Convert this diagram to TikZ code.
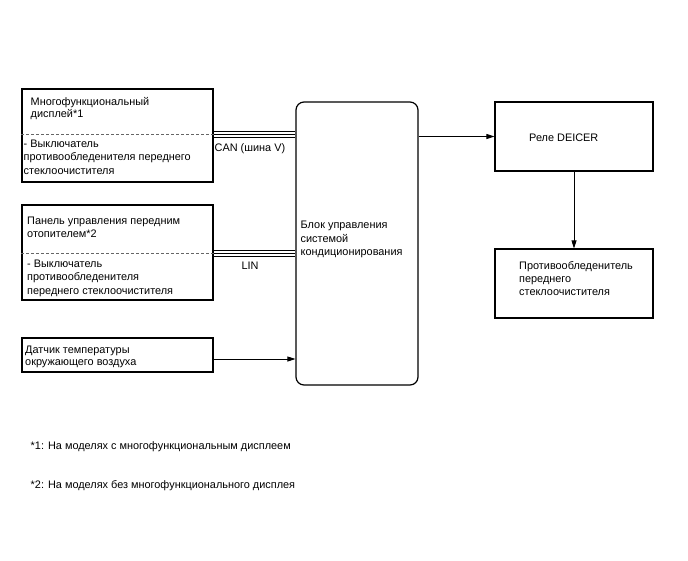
\documentclass[tikz,border=0pt]{standalone}
\usepackage{fontspec}
\setmainfont{Liberation Sans}
\usetikzlibrary{arrows.meta,calc}
\begin{document}
\begin{tikzpicture}[x=1pt,y=-1pt,
  box/.style={draw, line width=1.2pt, inner sep=0pt},
  txt/.style={inner sep=0pt, anchor=north west, align=left, font=\fontsize{10.9}{13.2}\selectfont},
  lbl/.style={inner sep=0pt, font=\fontsize{10.9}{13.2}\selectfont},
  sepline/.style={draw=black!60, line width=0.8pt, dash pattern=on 3pt off 2pt},
  bus/.style={line width=0.9pt},
  arr/.style={line width=0.8pt, -{Triangle[length=8pt,width=5pt]}}]
\useasboundingbox (0,0) rectangle (688,560);
% boxes
\node[box, minimum width=191pt, minimum height=93pt] (b1) at (117.5,135.5) {};
\node[box, minimum width=191pt, minimum height=95pt] (b2) at (117.5,252.5) {};
\node[box, minimum width=191pt, minimum height=34pt] (b3) at (117.5,355) {};
\node[box, rounded corners=8pt, minimum width=122pt, minimum height=283pt] (ctl) at (357,243.5) {};
\node[box, minimum width=158pt, minimum height=69pt] (relay) at (574,136.5) {};
\node[box, minimum width=158pt, minimum height=69pt] (def) at (574,283.5) {};
% dashed separators
\coordinate (can) at (0,134.5);
\coordinate (lin) at (0,253.5);
\coordinate (sen) at (0,359);
\draw[sepline] (b1.west |- can) -- (b1.east |- can);
\draw[sepline] (b2.west |- lin) -- (b2.east |- lin);
% texts
\node[txt, font=\fontsize{10.9}{12.4}\selectfont] (t1a) at (30.5,97) {Многофункциональный\\дисплей*1};
\node[txt] (t1b) at (23.5,140) {- Выключатель\\противообледенителя переднего\\стеклоочистителя};
\node[txt] (t2a) at (27,216.5) {Панель управления передним\\отопителем*2};
\node[txt] (t2b) at (27,260) {- Выключатель\\противообледенителя\\переднего стеклоочистителя};
\node[txt, font=\fontsize{10.9}{12}\selectfont] (t3) at (25,346) {Датчик температуры\\окружающего воздуха};
\node[txt, font=\fontsize{10.9}{13.8}\selectfont] (tc) at (300.5,220.5) {Блок управления\\системой\\кондиционирования};
\node[txt] (tr) at (529,133.5) {Реле DEICER};
\node[txt, font=\fontsize{10.9}{12.8}\selectfont] (td) at (519,261.5) {Противообледенитель\\переднего\\стеклоочистителя};
\node[txt] (f1) at (30.5,441.5) {*1: На моделях с многофункциональным дисплеем};
\node[txt] (f2) at (30.5,480) {*2: На моделях без многофункционального дисплея};
% buses
\foreach \d in {-3,0,3}{
  \draw[bus] ($(b1.east |- can)+(0,\d)$) -- ($(ctl.west |- can)+(0,\d)$);
  \draw[bus] ($(b2.east |- lin)+(0,\d)$) -- ($(ctl.west |- lin)+(0,\d)$);
}
\node[lbl, anchor=west] (lcan) at (214.5,148.5) {CAN (шина V)};
\node[lbl] (llin) at (250,265.5) {LIN};
% arrows
\draw[arr] (b3.east |- sen) -- (ctl.west |- sen);
\draw[arr] (ctl.east |- relay.west) -- (relay.west);
\draw[arr] (relay.south) -- (def.north);
\end{tikzpicture}
\end{document}
